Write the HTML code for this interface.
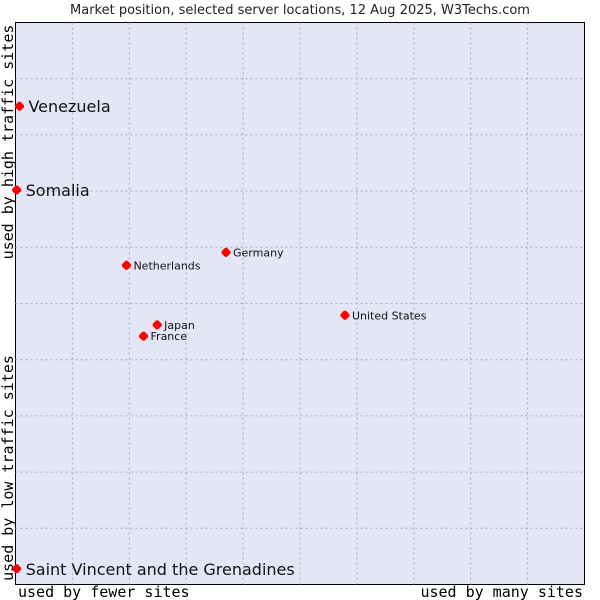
<!DOCTYPE html>
<html><head><meta charset="utf-8"><style>
body{margin:0;background:#fff;width:600px;height:600px;overflow:hidden}
svg{display:block}
</style></head><body>
<svg id="chart" width="600" height="600" font-family="'DejaVu Sans', 'Liberation Sans', sans-serif">
<text x="300" y="14" text-anchor="middle" font-size="13" fill="#222">Market position, selected server locations, 12 Aug 2025, W3Techs.com</text>
<rect x="15.5" y="22.5" width="569" height="562" fill="#e4e6f8" stroke="#000"/>
<g id="grid"></g>
<g id="pts"></g>
<text transform="translate(13,142) rotate(-90)" text-anchor="middle" font-family="'DejaVu Sans Mono','Liberation Mono',monospace" font-size="15">used by high traffic sites</text>
<text transform="translate(13,468) rotate(-90)" text-anchor="middle" font-family="'DejaVu Sans Mono','Liberation Mono',monospace" font-size="15">used by low traffic sites</text>
<text x="18" y="597" font-family="'DejaVu Sans Mono','Liberation Mono',monospace" font-size="15">used by fewer sites</text>
<text x="583" y="597" text-anchor="end" font-family="'DejaVu Sans Mono','Liberation Mono',monospace" font-size="15">used by many sites</text>
</svg>
<script>
const names=["Venezuela","Somalia","Saint Vincent and the Grenadines","Netherlands","Germany","United States","Japan","France"];
const xVals=[0.7,0.2,0.2,19.5,37.0,57.9,24.9,22.5];
const yVals=[85.1,70.2,2.8,56.8,59.1,47.9,46.2,44.2];
const big=[true,true,true,false,false,false,false,false];
const L=15.5,R=584.5,T=22.5,B=584.5;
const xs=v=>L+(R-L)*v/100, ys=v=>B-(B-T)*v/100;
const ns="http://www.w3.org/2000/svg";
const g=document.getElementById('grid'),p=document.getElementById('pts');
for(let i=1;i<10;i++){
 const a=document.createElementNS(ns,'line');
 
 
 a.setAttribute('x1',xs(i*10));a.setAttribute('x2',xs(i*10));a.setAttribute('y1',T);a.setAttribute('y2',B);
 a.setAttribute('stroke','#aaa');a.setAttribute('stroke-dasharray','2,3');g.appendChild(a);
 const b=document.createElementNS(ns,'line');
 
 
 b.setAttribute('y1',ys(i*10));b.setAttribute('y2',ys(i*10));b.setAttribute('x1',L);b.setAttribute('x2',R);
 b.setAttribute('stroke','#aaa');b.setAttribute('stroke-dasharray','2,3');g.appendChild(b);
}
names.forEach((n,i)=>{
 const x=xs(xVals[i]),y=ys(yVals[i]);
 const c=document.createElementNS(ns,'path');
 
 
 c.setAttribute('d',`M${x-4.5},${y-1}L${x-1},${y-4.5}L${x+1},${y-4.5}L${x+4.5},${y-1}L${x+4.5},${y+1}L${x+1},${y+4.5}L${x-1},${y+4.5}L${x-4.5},${y+1}Z`);
 c.setAttribute('fill','#f00');p.appendChild(c);
 const t=document.createElementNS(ns,'text');
 
 
 t.setAttribute('x',x+(big[i]?9:7));t.setAttribute('y',y+(big[i]?6:4));
 t.setAttribute('font-size',big[i]?16:11);t.setAttribute('fill','#111');
 t.textContent=n;p.appendChild(t);
});
</script>
</body></html>
